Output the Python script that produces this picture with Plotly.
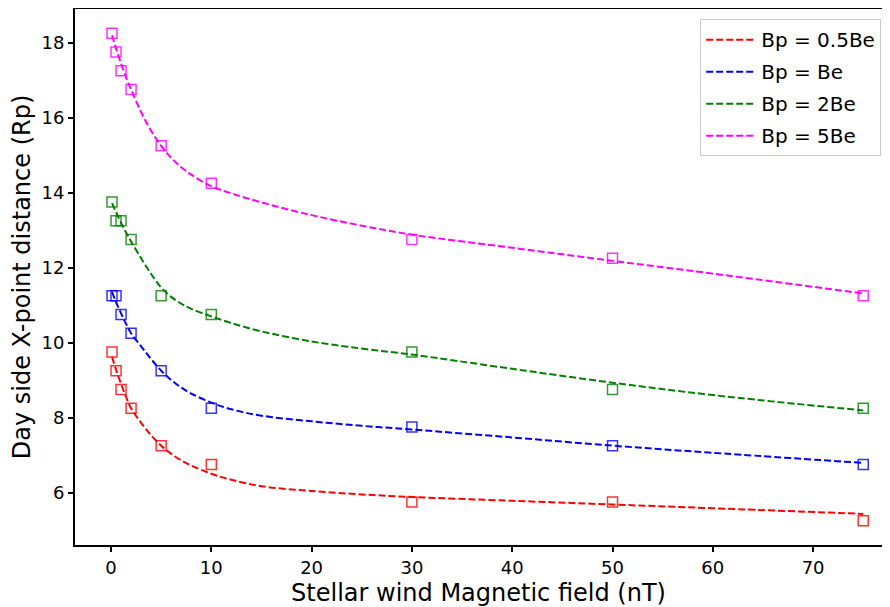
import plotly.graph_objects as go

# measured data points
x_data = [0.1, 0.5, 1, 2, 5, 10, 30, 50, 75]
y_half = [9.75, 9.25, 8.75, 8.25, 7.25, 6.75, 5.75, 5.75, 5.25]
y_one = [11.25, 11.25, 10.75, 10.25, 9.25, 8.25, 7.75, 7.25, 6.75]
y_two = [13.75, 13.25, 13.25, 12.75, 11.25, 10.75, 9.75, 8.75, 8.25]
y_five = [18.25, 17.75, 17.25, 16.75, 15.25, 14.25, 12.75, 12.25, 11.25]

# fitted curves
fit_x = [0.1, 0.5, 1, 1.5, 2, 3, 4, 5, 6, 7, 8, 10, 12, 15, 20, 25, 30, 40, 50, 60, 75]
fit_half = [9.62, 9.28, 8.9, 8.55, 8.25, 7.86, 7.53, 7.25, 7.03, 6.86, 6.72, 6.5, 6.34, 6.17,
            6.04, 5.95, 5.88, 5.78, 5.68, 5.58, 5.43]
fit_one = [11.35, 11.08, 10.78, 10.5, 10.25, 9.9, 9.56, 9.25, 9.0, 8.8, 8.64, 8.4, 8.22, 8.05,
           7.9, 7.78, 7.68, 7.47, 7.25, 7.06, 6.79]
fit_two = [13.72, 13.48, 13.2, 12.94, 12.7, 12.25, 11.83, 11.47, 11.22, 11.04, 10.9, 10.7, 10.52, 10.3,
           10.03, 9.84, 9.68, 9.30, 8.93, 8.60, 8.19]
fit_five = [18.2, 17.85, 17.45, 17.08, 16.75, 16.15, 15.65, 15.25, 14.93, 14.68, 14.48, 14.17, 13.98, 13.74,
            13.4, 13.12, 12.88, 12.53, 12.18, 11.84, 11.31]

labels = ["Bp = 0.5Be", "Bp = Be", "Bp = 2Be", "Bp = 5Be"]
colors = ["#FF0000", "#0000FF", "#008000", "#FF00FF"]
data_series = [y_half, y_one, y_two, y_five]
fit_series = [fit_half, fit_one, fit_two, fit_five]

FONT = "DejaVu Sans"
fig = go.Figure()

for i, (lab, col, ys, fs) in enumerate(zip(labels, colors, data_series, fit_series)):
    fig.add_trace(go.Scatter(
        x=x_data, y=ys, mode="markers", showlegend=False,
        marker=dict(symbol="square-open", size=10, color=col, opacity=0.8,
                    line=dict(width=1.5, color=col)),
    ))
    fig.add_trace(go.Scatter(
        x=fit_x, y=fs, mode="lines", name=lab, legendgroup=f"g{i}",
        line=dict(color=col, width=2, dash="7px,3px", shape="spline", smoothing=1.0),
    ))

# page body has an 8px margin, so the figure is sized to fit inside it
fig.update_layout(
    width=874, height=599,
    margin=dict(l=67, r=0, t=1, b=62),
    paper_bgcolor="white", plot_bgcolor="white",
    font=dict(family=FONT, color="black", size=18),
    legend=dict(
        x=0.999, y=0.981, xanchor="right", yanchor="top",
        bgcolor="rgba(255,255,255,0.8)", bordercolor="#CCCCCC", borderwidth=1,
        font=dict(family=FONT, size=20, color="black"),
        traceorder="grouped", tracegroupgap=3, itemwidth=50,
    ),
    xaxis=dict(
        range=[-3.59, 76.87], tickmode="array", tickvals=[0, 10, 20, 30, 40, 50, 60, 70],
        showgrid=False, zeroline=False, showline=True, linecolor="black", linewidth=2,
        mirror=True, ticks="outside", ticklen=5, tickwidth=1.5, tickcolor="black",
        tickfont=dict(size=18, family=FONT), automargin=False,
        title=dict(text="Stellar wind Magnetic field (nT)", font=dict(size=24, family=FONT), standoff=10),
    ),
    yaxis=dict(
        range=[4.6, 18.9], tickmode="array", tickvals=[6, 8, 10, 12, 14, 16, 18],
        showgrid=False, zeroline=False, showline=True, linecolor="black", linewidth=2,
        ticks="outside", ticklen=5, tickwidth=1.5, tickcolor="black",
        tickfont=dict(size=18, family=FONT), automargin=False,
        title=dict(text="Day side X-point distance (Rp)", font=dict(size=24, family=FONT), standoff=10),
    ),
)

fig.write_html("out.html")
